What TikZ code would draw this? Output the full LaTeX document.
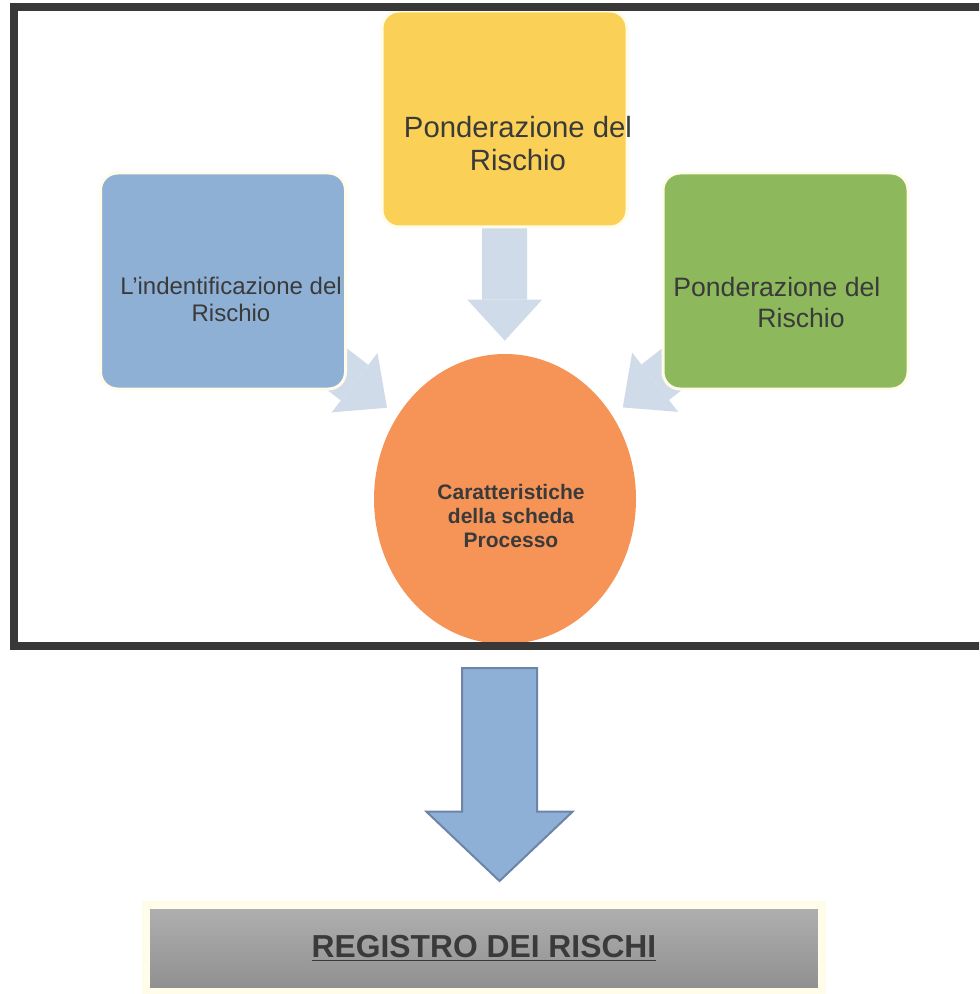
\documentclass[tikz,border=0pt]{standalone}
\usepackage{fontspec}
\setmainfont{Liberation Sans}
\usetikzlibrary{shapes.geometric, shapes.arrows, arrows.meta, backgrounds, positioning}

\definecolor{identblue}{HTML}{8FB0D5}
\definecolor{pondyellow}{HTML}{FBD056}
\definecolor{pondgreen}{HTML}{8DB95C}
\definecolor{carorange}{HTML}{F69458}
\definecolor{flowblue}{HTML}{CFDBE8}
\definecolor{boxrim}{HTML}{FFFCEA}
\definecolor{framegray}{HTML}{383838}
\definecolor{darktext}{HTML}{3A3A3A}
\definecolor{downblue}{HTML}{8FB0D6}
\definecolor{downrim}{HTML}{6D84A8}

\begin{document}
\begin{tikzpicture}[x=0.5pt,y=-0.5pt,
    box node/.style={rectangle,rounded corners=8.5pt,draw=boxrim,line width=1.5pt,minimum width=122.5pt,minimum height=108pt,inner sep=0pt},
    flow/.style={color=flowblue,line width=22.5pt,-{Triangle[length=20.5pt,width=37.5pt,line width=0pt]},shorten >=6.5pt},
    txt/.style={text=darktext,align=center,inner sep=0pt},
    reg node/.style={rectangle,draw=boxrim,line width=4pt,top color=black!31,bottom color=black!44,minimum width=338pt,minimum height=43.5pt,text=darktext,font=\bfseries\fontsize{15.9}{19}\selectfont}]

\useasboundingbox (0,0) rectangle (979,994);
\clip (0,0) rectangle (979,994);

\node[box node,fill=pondyellow] (pond)   at (504.5,119) {};
\node[box node,fill=identblue]  (ident)  at (223,281)   {};
\node[box node,fill=pondgreen]  (pond2)  at (785.5,281) {};
\node[ellipse,fill=carorange,minimum width=131pt,minimum height=145pt,inner sep=0pt] (car) at (505,499) {};

\node[txt,font=\fontsize{14.65}{16.5}\selectfont] (pond-t) at (518,143.5) {Ponderazione del\\Rischio};
\node[txt,font=\fontsize{12}{13.5}\selectfont] (ident-t) at (231,299.5) {L’indentificazione del\\Rischio};
\node[txt,align=left,anchor=west,font=\fontsize{13.3}{15.5}\selectfont] (pond2-t) at (673,302.5) {Ponderazione del\\\hspace*{42pt}Rischio};
\node[txt,font=\bfseries\fontsize{10.5}{12}\selectfont] (car-t) at (511,516) {Caratteristiche\\della scheda\\Processo};

% arrows go under the boxes
\begin{scope}[on background layer]
\path[flow]
(pond.center) edge (car)
(ident.center) edge (car)
(pond2.center) edge (car);
\end{scope}

\node[draw=framegray,line width=4pt,outer sep=0pt,minimum width=488pt,minimum height=319.5pt,anchor=north west,inner sep=0pt] (frame) at (14,7) {};

\node[single arrow,shape border rotate=270,fill=downblue,draw=downrim,line width=1pt,outer sep=0pt,
    minimum height=106.5pt,minimum width=72pt,single arrow head extend=17.75pt,
    single arrow tip angle=93,single arrow head indent=0pt,inner sep=18.25pt,anchor=tail] (down) at (499.5,668) {};

\node[reg node] (reg) at (484,948.5) {\underline{REGISTRO DEI RISCHI}};
\end{tikzpicture}
\end{document}
